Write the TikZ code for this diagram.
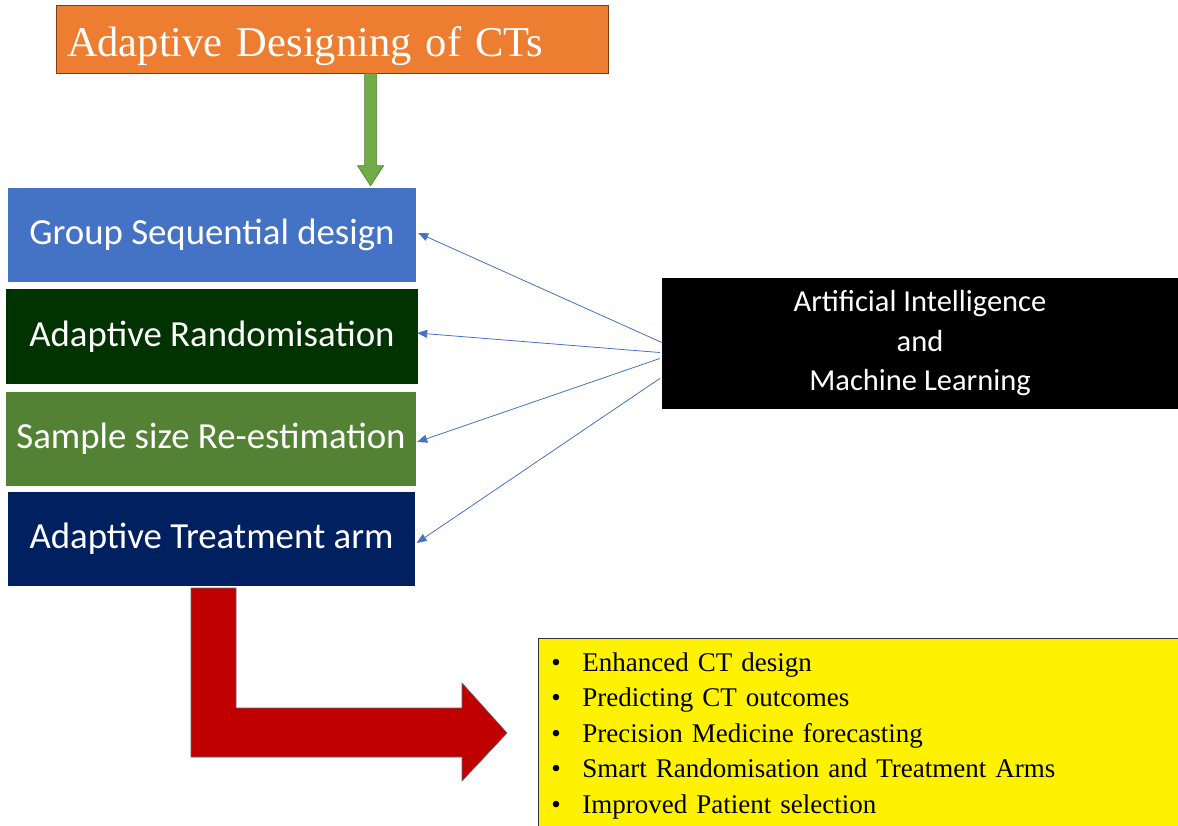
\documentclass[tikz,border=0pt]{standalone}
\usepackage{fontspec}
\setmainfont[WordSpace=0.75]{Liberation Serif}
\newfontfamily\calib{Carlito}
\usetikzlibrary{arrows.meta,calc}

\definecolor{orangeT}{HTML}{ED7D31}
\definecolor{orangeB}{HTML}{843C0C}
\definecolor{greenA}{HTML}{70AD47}
\definecolor{greenAB}{HTML}{507E32}
\definecolor{blueG}{HTML}{4472C4}
\definecolor{darkG}{HTML}{003300}
\definecolor{midG}{HTML}{548235}
\definecolor{navyT}{HTML}{002060}
\definecolor{redA}{HTML}{C00000}
\definecolor{redAB}{HTML}{5A6478}

\tikzset{
  designbox/.style={rectangle, minimum width=408pt, minimum height=94pt,
    inner sep=0pt, text=white, font=\calib\fontsize{36.8}{42}\selectfont},
  linkarrow/.style={draw=blueG, line width=0.8pt,
    -{Triangle[width=8pt,length=10pt]}},
}

\begin{document}
\begin{tikzpicture}[x=1pt,y=-1pt]
\useasboundingbox (0,0) rectangle (1178,826);

% title box
\node[rectangle, fill=orangeT, draw=orangeB, line width=0.8pt,
      minimum width=552pt, minimum height=68pt, inner xsep=11pt, inner ysep=0pt,
      text height=40pt, text depth=4pt,
      text width=530pt, align=left, text=white,
      font=\fontsize{42.5}{48}\selectfont] (title) at (332,39)
      {Adaptive Designing of CTs};

% the four design boxes
\node[designbox, fill=blueG]  (gsd) at (212,235)   {Group Sequential design};
\node[designbox, fill=darkG, minimum width=412pt] (ar) at (212,336.5) {Adaptive Randomisation};
\node[designbox, fill=midG, minimum width=410pt]  (ss) at (211,438.5) {Sample size Re-estimation};
\node[designbox, fill=navyT, minimum width=407pt] (at) at (211.5,538.5) {Adaptive Treatment arm};

% AI / ML box
\node[rectangle, fill=black, minimum width=516pt, minimum height=131pt,
      text=white, align=center, font=\calib\fontsize{30.5}{39.5}\selectfont]
      (ai) at (920,343.5) {Artificial Intelligence\\and\\Machine Learning};

% green block arrow from the title down to the first box
\coordinate (gtop) at ($(title.south west)+(315,0)$);
\coordinate (gtip) at ($(gtop |- gsd.north)+(0,-2)$);
\draw[fill=greenA, draw=greenAB, line width=0.6pt]
  ($(gtop)+(-6,0)$) -- ($(gtip)+(-6,-20)$) -- ($(gtip)+(-13,-20)$) --
  (gtip) -- ($(gtip)+(13,-20)$) -- ($(gtip)+(6,-20)$) -- ($(gtop)+(6,0)$) -- cycle;

% links from AI / ML to each design
\draw[linkarrow] ($(ai.west)+(0,-1)$)  -- ($(gsd.east)+(2,-2)$);
\draw[linkarrow] ($(ai.west)+(-2,9)$) -- ($(ar.east)+(-1,-3.5)$);
\draw[linkarrow] ($(ai.west)+(-2,15)$) -- ($(ss.east)+(1,3.5)$);
\draw[linkarrow] ($(ai.west)+(-2,35)$) -- ($(at.east)+(1.5,4.5)$);

% red bent arrow towards the outcomes
\draw[fill=redA, draw=redAB, line width=0.6pt]
  (191,588) -- (236,588) -- (236,708) -- (462,708) -- (462,683) --
  (507,733) -- (462,781) -- (462,757) -- (191,757) -- cycle;

% outcomes box
\node[rectangle, anchor=north west, fill=yellow, draw=black!80, line width=0.8pt,
      inner xsep=13pt, inner ysep=14pt, text width=640pt, align=left,
      font=\fontsize{27}{35.5}\selectfont] (out) at (538,638)
  {\makebox[31pt][l]{\textbullet}Enhanced CT design\\
   \makebox[31pt][l]{\textbullet}Predicting CT outcomes\\
   \makebox[31pt][l]{\textbullet}Precision Medicine forecasting\\
   \makebox[31pt][l]{\textbullet}Smart Randomisation and Treatment Arms\\
   \makebox[31pt][l]{\textbullet}Improved Patient selection};
\end{tikzpicture}
\end{document}
